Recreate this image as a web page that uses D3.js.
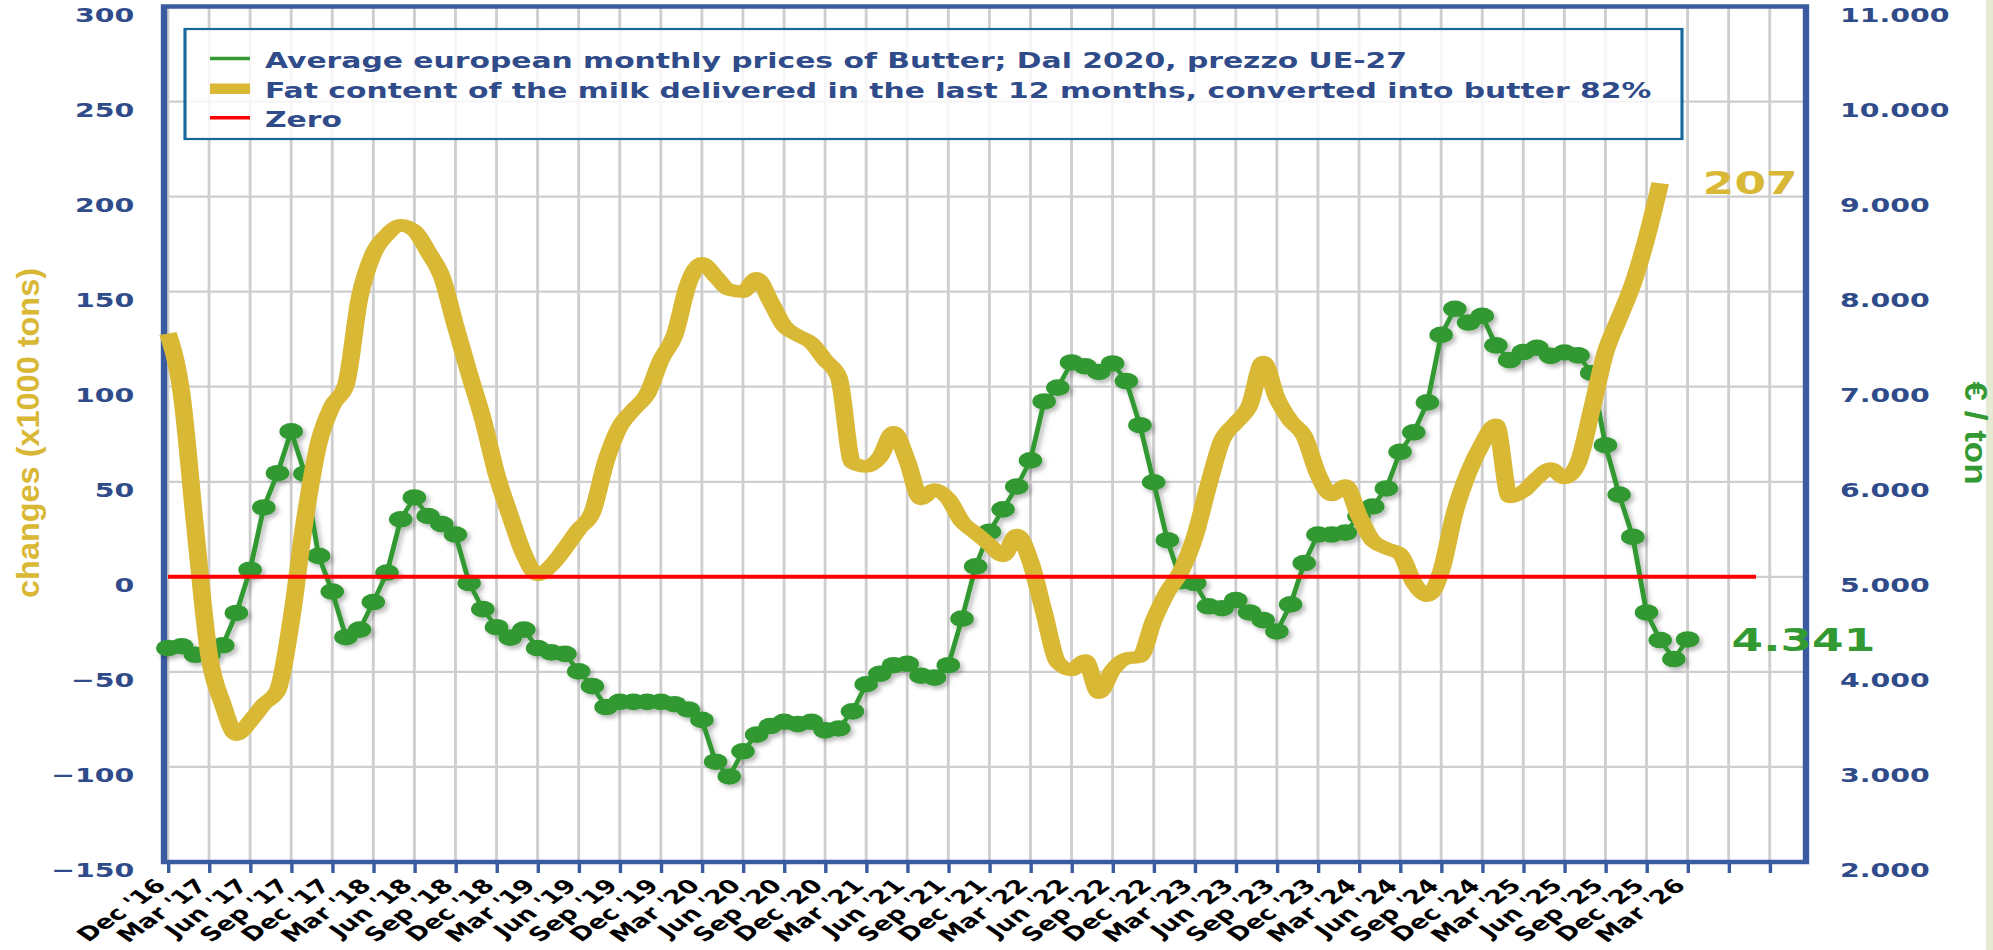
<!DOCTYPE html>
<html><head><meta charset="utf-8">
<script src="https://cdn.jsdelivr.net/npm/d3@7"></script>
<style>html,body{margin:0;padding:0;background:#fff;overflow:hidden}</style>
</head><body><svg id="c" width="1993" height="950"></svg>
<script>
// ---------- DATA ----------
const xTickLabels = ["Dec '16","Mar '17","Jun '17","Sep '17","Dec '17","Mar '18","Jun '18","Sep '18","Dec '18",
  "Mar '19","Jun '19","Sep '19","Dec '19","Mar '20","Jun '20","Sep '20","Dec '20","Mar '21","Jun '21","Sep '21",
  "Dec '21","Mar '22","Jun '22","Sep '22","Dec '22","Mar '23","Jun '23","Sep '23","Dec '23","Mar '24","Jun '24",
  "Sep '24","Dec '24","Mar '25","Jun '25","Sep '25","Dec '25","Mar '26","",""];
const leftTicks = [-150,-100,-50,0,50,100,150,200,250,300];
const rightTicks = [2000,3000,4000,5000,6000,7000,8000,9000,10000,11000];

// Average european monthly prices of Butter (EUR/ton), monthly from Dec '16
const butterPrices = [4250,4270,4180,4180,4280,4620,5075,5730,6090,6530,6085,5220,4845,4365,4445,4735,5045,5605,5835,5640,
  5555,5445,4935,4660,4470,4360,4445,4250,4205,4190,4005,3850,3630,3685,3685,3685,3685,3660,3605,3495,
  3055,2900,3165,3340,3430,3475,3450,3475,3385,3405,3585,3870,3980,4070,4085,3960,3940,4070,4560,5110,
  5475,5710,5950,6225,6845,6990,7255,7215,7155,7245,7060,6595,5995,5385,4955,4935,4690,4670,4755,4625,
  4545,4425,4710,5145,5445,5445,5465,5640,5740,5930,6315,6520,6835,7545,7820,7675,7745,7435,7280,7365,
  7410,7325,7360,7330,7145,6385,5865,5420,4625,4335,4135,4341];

// Fat content of milk delivered in last 12 months, converted into butter 82% (x1000 t changes), monthly from Dec '16
const fatContent = [128,96,25,-41,-67,-83,-76,-67,-60,-23,30,70,90,101,147,170,180,185,182,171,
  158,132,107,83,54,32,12,1,6,15,25,34,61,79,88,96,114,127,154,165,
  158,151,150,157,145,132,127,123,114,105,60,58,63,76,61,41,46,41,29,23,
  17,11,22,8,-19,-45,-49,-44,-61,-49,-43,-42,-23,-8,3,21,48,72,81,90,
  113,94,82,74,54,43,48,32,19,15,12,-3,-10,3,34,55,70,80,42,45,
  52,57,52,60,88,118,136,154,178,207];

const zeroMonths = [0, 116];
const zeroValues = [0, 0];

const legendNames = ["Average european monthly prices of Butter; Dal 2020, prezzo UE-27",
  "Fat content of the milk delivered in the last 12 months, converted into butter 82%",
  "Zero"];
const legendColors = ["#339933","#d9b836","#ff0000"];
const legendWidths = [3.5, 10.5, 3.5];

// ---------- LAYOUT ----------
const S = 1.42; // horizontal stretch of the original picture
const svg = d3.select("#c");
svg.append("rect").attr("width",1993).attr("height",950).attr("fill","#fff");
svg.append("rect").attr("x",1986).attr("y",0).attr("width",7).attr("height",950).attr("fill","#e4ebd2");

const defs = svg.append("defs");
defs.append("filter").attr("id","sh").attr("x","-5%").attr("y","-5%").attr("width","115%").attr("height","115%")
  .append("feDropShadow").attr("dx",2).attr("dy",3).attr("stdDeviation",2)
  .attr("flood-color","#000").attr("flood-opacity",0.28);

const g = svg.append("g").attr("transform",`scale(${S},1)`);

const x = d3.scaleLinear().domain([-0.29, 119.65]).range([164/S, 1806/S]);
const yL = d3.scaleLinear().domain([-150,300]).range([862, 6.5]);
const yR = d3.scaleLinear().domain([2000,11000]).range([862, 6.5]);
const quarterIdx = xTickLabels.map((_,k)=>k*3);

const blue = "#3b5ba0", textBlue = "#2f4b89", grid = "#cecece";

// gridlines
g.append("g").selectAll("line").data(leftTicks).join("line")
  .attr("x1", x.range()[0]).attr("x2", x.range()[1])
  .attr("y1", d=>yL(d)).attr("y2", d=>yL(d))
  .attr("stroke", grid).attr("stroke-width", 2.2);
g.append("g").selectAll("line").data(quarterIdx).join("line")
  .attr("x1", d=>x(d)).attr("x2", d=>x(d))
  .attr("y1", yL.range()[1]).attr("y2", yL.range()[0])
  .attr("stroke", grid).attr("stroke-width", 2);

// frame
g.append("rect").attr("x", x.range()[0]).attr("y", yL.range()[1])
  .attr("width", x.range()[1]-x.range()[0]).attr("height", yL.range()[0]-yL.range()[1])
  .attr("fill","none").attr("stroke", blue).attr("stroke-width", 4.5);

// x axis
const ax = g.append("g").attr("transform",`translate(0,${yL.range()[0]})`)
  .call(d3.axisBottom(x).tickValues(quarterIdx).tickFormat((d,k)=>xTickLabels[k]).tickSize(11).tickPadding(0));
ax.attr("font-size",null).attr("font-family",null);
ax.select(".domain").remove();
ax.selectAll(".tick line").attr("stroke", blue).attr("stroke-width", 2.4);
ax.selectAll(".tick text").attr("y",null).attr("dy",null)
  .attr("transform","translate(-1,25) rotate(-45)")
  .style("text-anchor","end").attr("fill","#000")
  .style("font-family","'DejaVu Sans', Verdana, sans-serif").style("font-weight","bold").style("font-size","19px");

// left axis
const axL = g.append("g").attr("transform",`translate(${x.range()[0]},0)`)
  .call(d3.axisLeft(yL).tickValues(leftTicks).tickSize(0).tickPadding(21));
axL.attr("font-size",null).attr("font-family",null);
axL.select(".domain").remove();
axL.selectAll(".tick text").attr("y",8.5).attr("fill",textBlue)
  .style("font-family","'DejaVu Sans', Verdana, sans-serif").style("font-weight","bold").style("font-size","20px");

// right axis
const loc = d3.formatLocale({decimal:",", thousands:".", grouping:[3], currency:["","€"]});
const fmt = loc.format(",");
const axR = g.append("g").attr("transform",`translate(${x.range()[1]},0)`)
  .call(d3.axisRight(yR).tickValues(rightTicks).tickFormat(fmt).tickSize(0).tickPadding(24));
axR.attr("font-size",null).attr("font-family",null);
axR.select(".domain").remove();
axR.selectAll(".tick text").attr("y",8.5).attr("fill",textBlue)
  .style("font-family","'DejaVu Sans', Verdana, sans-serif").style("font-weight","bold").style("font-size","20px");

// axis titles
g.append("text").attr("transform",`translate(${28/S},433) rotate(-90)`)
  .attr("text-anchor","middle").attr("dy","0.35em")
  .attr("textLength",330).attr("lengthAdjust","spacingAndGlyphs")
  .attr("fill","#d9b836").style("font-family","'Liberation Sans Narrow','Liberation Sans',sans-serif")
  .style("font-weight","bold").style("font-size","22px").text("changes (x1000 tons)");
g.append("text").attr("transform",`translate(${1976/S},433) rotate(90)`)
  .attr("text-anchor","middle").attr("dy","0.35em")
  .attr("textLength",103).attr("lengthAdjust","spacingAndGlyphs")
  .attr("fill","#339933").style("font-family","'Liberation Sans Narrow','Liberation Sans',sans-serif")
  .style("font-weight","bold").style("font-size","22px").text("€ / ton");

// green series
const gg = g.append("g").attr("filter","url(#sh)");
gg.append("path").datum(butterPrices)
  .attr("d", d3.line().x((d,i)=>x(i)).y(d=>yR(d)))
  .attr("fill","none").attr("stroke","#339933").attr("stroke-width",3.5);
gg.selectAll("circle").data(butterPrices).join("circle")
  .attr("cx",(d,i)=>x(i)).attr("cy",d=>yR(d)).attr("r",8.3).attr("fill","#339933");

// gold series
g.append("path").datum(fatContent)
  .attr("d", d3.line().x((d,i)=>x(i)).y(d=>yL(d)).curve(d3.curveMonotoneX))
  .attr("fill","none").attr("stroke","#d9b836").attr("stroke-width",12.5)
  .attr("stroke-linejoin","round");

// zero line
g.append("path").datum(zeroMonths.map((m,k)=>[m, zeroValues[k]]))
  .attr("d", d3.line().x(d=>x(d[0])).y(d=>yL(d[1])))
  .attr("fill","none").attr("stroke","#ff0000").attr("stroke-width",4);

// end labels
const lastF = fatContent.length-1, lastB = butterPrices.length-1;
g.append("text").attr("x", x(lastF)+30).attr("y", yL(fatContent[lastF])).attr("dy","0.33em")
  .attr("fill","#d9b836").style("font-family","'DejaVu Sans', Verdana, sans-serif")
  .style("font-weight","bold").style("font-size","32px").text(fatContent[lastF]);
g.append("text").attr("x", x(lastB)+31).attr("y", yR(butterPrices[lastB])).attr("dy","0.35em")
  .attr("fill","#339933").style("font-family","'DejaVu Sans', Verdana, sans-serif")
  .style("font-weight","bold").style("font-size","32px").text(fmt(butterPrices[lastB]));

// legend
const lg = g.append("g");
lg.append("rect").attr("x",185/S).attr("y",29).attr("width",(1682-185)/S).attr("height",110)
  .attr("fill","#fff").attr("fill-opacity",0.82).attr("stroke","#17699b").attr("stroke-width",2.2);
const rowY = [58.5, 88.7, 117.7];
legendNames.forEach((name,k)=>{
  lg.append("line").attr("x1",210/S).attr("x2",250/S).attr("y1",rowY[k]).attr("y2",rowY[k])
    .attr("stroke",legendColors[k]).attr("stroke-width",legendWidths[k]);
  lg.append("text").attr("x",265/S).attr("y",rowY[k]+9.5).attr("fill",textBlue)
    .style("font-family","'DejaVu Sans', Verdana, sans-serif").style("font-weight","bold")
    .style("font-size","21px").text(name);
});
</script>
</body></html>
